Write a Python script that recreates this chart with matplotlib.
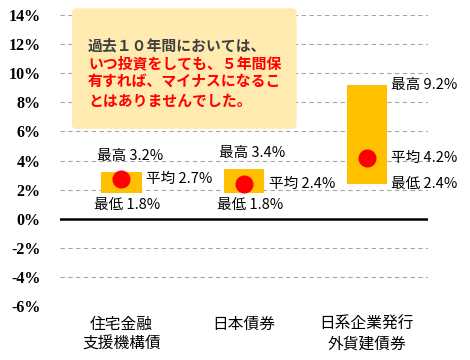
import matplotlib.pyplot as plt
from matplotlib.patches import FancyBboxPatch

plt.rcParams['font.family'] = ['Noto Sans CJK JP', 'DejaVu Sans']

# データ
categories = ['住宅金融\n支援機構債', '日本債券', '日系企業発行\n外貨建債券']
low = [1.8, 1.8, 2.4]
high = [3.2, 3.4, 9.2]
avg = [2.7, 2.4, 4.2]
yticks = [14, 12, 10, 8, 6, 4, 2, 0, -2, -4, -6]

fig = plt.figure(figsize=(4.7, 3.6), dpi=100)
ax = fig.add_axes([0.128, 0.15, 0.783, 0.808])

x = list(range(len(categories)))
heights = [h - l for h, l in zip(high, low)]
ax.bar(x, heights, bottom=low, width=0.33, color='#FFC000', zorder=3)
ax.plot(x, avg, 'o', color='#FF0000', markersize=12, zorder=4)

ax.set_xlim(-0.5, 2.5)
ax.set_ylim(-6, 14)
ax.set_yticks(yticks)
ax.set_yticklabels([f'{t}%' for t in yticks], family='Liberation Serif',
                   fontweight='bold', fontsize=11.5)
ax.set_xticks(x)
ax.set_xticklabels(categories, fontsize=11.3, linespacing=1.2)
ax.tick_params(axis='y', length=0, pad=14)
ax.tick_params(axis='x', length=0, pad=7)
for s in ax.spines.values():
    s.set_visible(False)
ax.grid(axis='y', color='#A6A6A6', linestyle=(0, (4, 3)), linewidth=0.8, zorder=0)
ax.axhline(0, color='black', linewidth=1.8, zorder=2)

bw = 0.33 / 2
fs = 10.5
# 左側2本: 最高は上、平均は右、最低は下
for i in [0, 1]:
    ax.annotate(f'最高 {high[i]}%', (i, high[i]), xytext=(6, 12), textcoords='offset points',
                ha='center', va='center', fontsize=fs)
    ax.annotate(f'平均 {avg[i]}%', (i + bw, avg[i]), xytext=(3, 0), textcoords='offset points',
                ha='left', va='center', fontsize=fs)
    ax.annotate(f'最低 {low[i]}%', (i, low[i]), xytext=(4, -9), textcoords='offset points',
                ha='center', va='center', fontsize=fs)
# 右側: すべて右
i = 2
for label, v in [('最高', high[i]), ('平均', avg[i]), ('最低', low[i])]:
    ax.annotate(f'{label} {v}%', (i + bw, v), xytext=(3, 0), textcoords='offset points',
                ha='left', va='center', fontsize=fs)

# コメントボックス
box = FancyBboxPatch((0.153, 0.642), 0.478, 0.335, boxstyle='round,pad=0,rounding_size=0.012',
                     transform=fig.transFigure, facecolor='#FFEBAF', edgecolor='none', zorder=5)
fig.patches.append(box)
lines = ['過去１０年間においては、', 'いつ投資をしても、５年間保', '有すれば、マイナスになるこ', 'とはありませんでした。']
colors = ['#404040', '#FF0000', '#FF0000', '#FF0000']
for k, (t, c) in enumerate(zip(lines, colors)):
    fig.text(88 / 470, 1 - (45 + k * 18.5) / 360, t, color=c, fontsize=10.7,
             fontweight='bold', ha='left', va='center', zorder=6)

fig.savefig('out.png', dpi=100)
